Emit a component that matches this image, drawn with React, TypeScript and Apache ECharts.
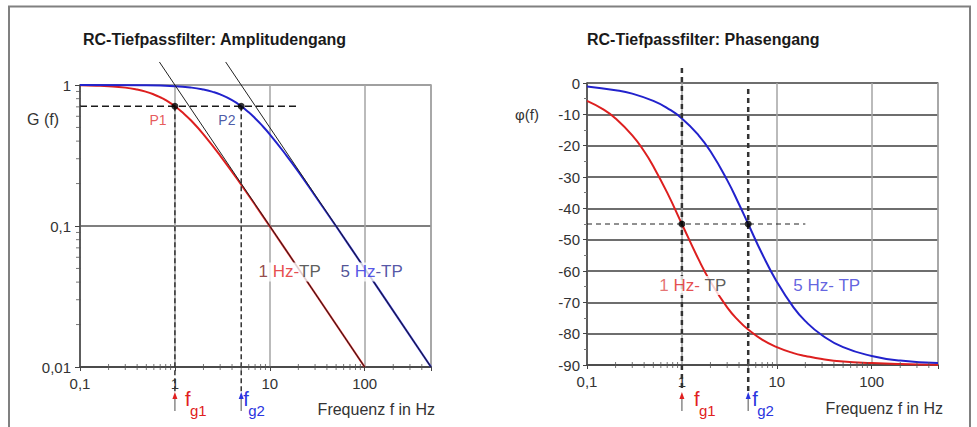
import React, { useEffect, useRef } from 'react';
import * as echarts from 'echarts';

const FONT = '"Liberation Sans", Arial, Helvetica, sans-serif';

// ---- Amplitude response (left panel) ----
const AMP_F1 = [0.1, 0.15, 0.2, 0.3, 0.4, 0.5, 0.6, 0.7, 0.8, 1, 1.2, 1.5, 2, 3, 5, 10, 20, 50, 100];
const AMP_G1 = [0.995, 0.989, 0.981, 0.958, 0.928, 0.894, 0.857, 0.819, 0.781, 0.707, 0.64, 0.555, 0.447, 0.316, 0.196, 0.0995, 0.05, 0.02, 0.01];
const AMP_F2 = [0.1, 0.5, 1, 1.5, 2, 2.5, 3, 4, 5, 6, 7, 8, 10, 15, 20, 30, 50, 100, 200, 500];
const AMP_G2 = [1.0, 0.995, 0.981, 0.958, 0.928, 0.894, 0.857, 0.781, 0.707, 0.64, 0.581, 0.53, 0.447, 0.316, 0.243, 0.164, 0.0995, 0.05, 0.025, 0.01];
const ASYM_F1 = [0.687, 100];
const ASYM_G1 = [1.456, 0.01];
const ASYM_F2 = [3.43, 500];
const ASYM_G2 = [1.456, 0.01];

// ---- Phase response (right panel) ----
const PH_F1 = [0.1, 0.15, 0.2, 0.3, 0.4, 0.5, 0.7, 1, 1.5, 2, 3, 4, 5, 7, 10, 15, 20, 30, 50, 100, 200, 500];
const PH_1 = [-5.7, -8.5, -11.3, -16.7, -21.8, -26.6, -35.0, -45.0, -56.3, -63.4, -71.6, -76.0, -78.7, -81.9, -84.3, -86.2, -87.1, -88.1, -88.9, -89.4, -89.7, -89.9];
const PH_F2 = [0.1, 0.2, 0.3, 0.5, 0.7, 1, 1.5, 2, 3, 4, 5, 7, 10, 15, 20, 30, 50, 100, 200, 500];
const PH_2 = [-1.1, -2.3, -3.4, -5.7, -8.0, -11.3, -16.7, -21.8, -31.0, -38.7, -45.0, -54.5, -63.4, -71.6, -76.0, -80.5, -84.3, -87.1, -88.6, -89.4];

// ---- Cut-off frequencies and guide values ----
const FG = [1, 5];
const G_CUT = 0.707;
const PHI_CUT = -45;
const GUIDE_END_F = 20;

// ---- Axis ticks ----
const X_LABELS = [0.1, 1, 10, 100];
const Y_AMP_LABELS = [0.01, 0.1, 1];
const X_MINOR = [0.2, 0.3, 0.4, 0.5, 0.6, 0.7, 0.8, 0.9, 2, 3, 4, 5, 6, 7, 8, 9, 20, 30, 40, 50, 60, 70, 80, 90, 200, 300, 400];
const Y_AMP_MINOR = [0.02, 0.03, 0.04, 0.05, 0.06, 0.07, 0.08, 0.09, 0.2, 0.3, 0.4, 0.5, 0.6, 0.7, 0.8, 0.9];

const RED = '#dd1f1f';
const BLUE = '#2222cc';

const zip = (a: number[], b: number[]) => a.map((v, i) => [v, b[i]]);
const inList = (list: number[]) => (v: number) => list.some((t) => Math.abs(v - t) / t < 1e-6);
const deco = (v: number) => String(v).replace('.', ',');

function minorTicks(grid: number, vals: number[], axis: 'x' | 'y', anchor: number) {
  return {
    type: 'scatter',
    xAxisIndex: grid,
    yAxisIndex: grid,
    silent: true,
    z: 6,
    clip: false,
    symbol: 'rect',
    symbolSize: axis === 'x' ? [1, 6] : [5, 1],
    symbolOffset: axis === 'x' ? [0, 0] : [-1.5, 0],
    itemStyle: { color: '#555' },
    data: vals.map((v) => (axis === 'x' ? [v, anchor] : [anchor, v])),
  };
}

function lineS(grid: number, data: number[][], color: string, width: number, extra: any = {}) {
  const { lineStyle, ...rest } = extra;
  return {
    type: 'line',
    xAxisIndex: grid,
    yAxisIndex: grid,
    data,
    symbol: 'none',
    silent: true,
    clip: false,
    ...rest,
    lineStyle: { color, width, ...(lineStyle || {}) },
  };
}

function textLabel(value: number[], rich: [string, string][], size: number) {
  const richObj: any = {};
  rich.forEach(([, c], i) => {
    richObj['s' + i] = { color: c, fontSize: size, fontFamily: FONT };
  });
  return {
    value,
    label: {
      show: true,
      position: 'inside',
      formatter: rich.map(([t], i) => `{s${i}|${t}}`).join(''),
      rich: richObj,
      backgroundColor: '#ffffff',
      padding: [1, 2],
    },
  };
}

function xAxisCfg(grid: number) {
  return {
    type: 'log',
    logBase: 10,
    gridIndex: grid,
    min: 0.1,
    max: 500,
    axisLine: { show: true, onZero: false, lineStyle: { color: '#444', width: 1.5 } },
    axisTick: { show: true, length: 4, lineStyle: { color: '#444' } },
    axisLabel: {
      color: '#333',
      fontSize: 15,
      fontFamily: FONT,
      margin: 9,
      formatter: (v: number) => (inList(X_LABELS)(v) ? deco(v) : ''),
    },
    splitLine: { show: true, lineStyle: { color: '#a4a4a4', width: 1.5 } },
  };
}

function buildOption() {
  const series: any[] = [
    // ---- left ----
    lineS(0, zip(AMP_F1, AMP_G1), RED, 2, { smooth: true, z: 3 }),
    lineS(0, zip(AMP_F2, AMP_G2), BLUE, 2, { smooth: true, z: 3 }),
    lineS(0, zip(ASYM_F1, ASYM_G1), '#222', 1, { z: 4 }),
    lineS(0, zip(ASYM_F2, ASYM_G2), '#222', 1, { z: 4 }),
    lineS(0, [[0.1, G_CUT], [GUIDE_END_F, G_CUT]], '#1a1a1a', 1.5, { z: 4, lineStyle: { type: [7, 4] } }),
    lineS(0, [[FG[0], G_CUT], [FG[0], 0.0066]], '#333', 1.5, { z: 4, lineStyle: { type: [5, 3] } }),
    lineS(0, [[FG[1], G_CUT], [FG[1], 0.0066]], '#333', 1.5, { z: 4, lineStyle: { type: [5, 3] } }),
    {
      type: 'scatter', xAxisIndex: 0, yAxisIndex: 0, silent: true, z: 7,
      symbolSize: 7, itemStyle: { color: '#000' },
      data: [[FG[0], G_CUT], [FG[1], G_CUT]],
    },
    {
      type: 'scatter', xAxisIndex: 0, yAxisIndex: 0, silent: true, z: 8,
      symbolSize: 0, itemStyle: { color: 'rgba(0,0,0,0)' },
      data: [
        textLabel([0.663, 0.565], [['P1', '#e03030']], 14),
        textLabel([3.53, 0.565], [['P2', '#203090']], 14),
        textLabel([16.2, 0.0472], [['1 ', '#7a1c1c'], ['Hz-', '#e02020'], ['TP', '#333333']], 17),
        textLabel([118.5, 0.0472], [['5 ', '#25257a'], ['Hz', '#2a2ae0'], ['-TP', '#2a2a90']], 17),
      ],
    },
    minorTicks(0, X_MINOR, 'x', 0.01),
    minorTicks(0, Y_AMP_MINOR, 'y', 0.1),
    // ---- right ----
    lineS(1, zip(PH_F1, PH_1), RED, 2, { smooth: true, z: 3 }),
    lineS(1, zip(PH_F2, PH_2), BLUE, 2, { smooth: true, z: 3 }),
    lineS(1, [[0.1, PHI_CUT], [GUIDE_END_F, PHI_CUT]], '#222', 1, { z: 4, lineStyle: { type: [5, 4] } }),
    lineS(1, [[FG[0], 4.8], [FG[0], -98.6]], '#333', 2.5, { z: 4, lineStyle: { type: [5, 4] } }),
    lineS(1, [[FG[1], -1.9], [FG[1], -98.6]], '#333', 2.5, { z: 4, lineStyle: { type: [5, 4] } }),
    {
      type: 'scatter', xAxisIndex: 1, yAxisIndex: 1, silent: true, z: 7,
      symbolSize: 7, itemStyle: { color: '#000' },
      data: [[FG[0], PHI_CUT], [FG[1], PHI_CUT]],
    },
    {
      type: 'scatter', xAxisIndex: 1, yAxisIndex: 1, silent: true, z: 8,
      symbolSize: 0, itemStyle: { color: 'rgba(0,0,0,0)' },
      data: [
        textLabel([1.305, -64.6], [['1 ', '#e05050'], ['Hz-', '#e02020'], [' TP', '#333333']], 17),
        textLabel([33.6, -64.6], [['5 Hz- TP', '#3a3ad8']], 17),
      ],
    },
    minorTicks(1, X_MINOR, 'x', -90),
  ];

  return {
    animation: false,
    backgroundColor: '#ffffff',
    grid: [
      { left: 80, top: 85, width: 351, height: 282, show: true, borderColor: '#9a9a9a', borderWidth: 1.5 },
      { left: 587, top: 83, width: 351, height: 282, show: true, borderColor: '#9a9a9a', borderWidth: 1.5 },
    ],
    xAxis: [xAxisCfg(0), xAxisCfg(1)],
    yAxis: [
      {
        type: 'log',
        logBase: 10,
        gridIndex: 0,
        min: 0.01,
        max: 1,
        axisLine: { show: true, onZero: false, lineStyle: { color: '#444', width: 1.5 } },
        axisTick: { show: true, length: 5, lineStyle: { color: '#444' } },
        axisLabel: {
          color: '#333', fontSize: 15, fontFamily: FONT, margin: 9,
          formatter: (v: number) => (inList(Y_AMP_LABELS)(v) ? deco(v) : ''),
        },
        splitLine: { show: true, lineStyle: { color: ['#444', '#555', '#9a9a9a'], width: 1.5 } },
      },
      {
        type: 'value',
        gridIndex: 1,
        min: -90,
        max: 0,
        interval: 10,
        axisLine: { show: true, onZero: false, lineStyle: { color: '#444', width: 1.5 } },
        axisTick: { show: true, length: 4, lineStyle: { color: '#444' } },
        minorTick: { show: true, splitNumber: 2, length: 3, lineStyle: { color: '#777' } },
        axisLabel: { color: '#333', fontSize: 15, fontFamily: FONT, margin: 7 },
        splitLine: { show: true, lineStyle: { color: '#6e6e6e', width: 2 } },
      },
    ],
    series,
  };
}

function fgLabel(x: number, yTop: number, color: string, sub: string, fDx: number) {
  return [
    { type: 'line', silent: true, shape: { x1: x, y1: yTop + 5, x2: x, y2: yTop + 19 }, style: { stroke: '#8a8a8a', lineWidth: 1.5 } },
    { type: 'polygon', silent: true, shape: { points: [[x, yTop], [x - 2.5, yTop + 7], [x + 2.5, yTop + 7]] }, style: { fill: color } },
    { type: 'text', silent: true, x: x + fDx, y: yTop + 7, style: { text: 'f', font: `20px ${FONT}`, fill: color, verticalAlign: 'middle' } },
    { type: 'text', silent: true, x: x + fDx + 5, y: yTop + 18, style: { text: sub, font: `15px ${FONT}`, fill: color, verticalAlign: 'middle' } },
  ];
}

export default function App() {
  const ref = useRef<HTMLDivElement>(null);
  useEffect(() => {
    if (!ref.current) return;
    const chart = echarts.init(ref.current, null, { renderer: 'svg' });
    chart.setOption(buildOption() as any);

    const px = (grid: number, v: number[]) => chart.convertToPixel({ gridIndex: grid } as any, v) as number[];
    const l1 = px(0, [FG[0], 0.01]);
    const l5 = px(0, [FG[1], 0.01]);
    const r1 = px(1, [FG[0], -90]);
    const r5 = px(1, [FG[1], -90]);
    const yTop = 392;

    const graphic: any[] = [
      {
        type: 'polyline', silent: true,
        shape: { points: [[9, 430], [9, 6.5], [970, 6.5], [970, 430]] },
        style: { stroke: '#808080', lineWidth: 2, fill: 'none' },
      },
      { type: 'text', silent: true, x: 83, y: 39, style: { text: 'RC-Tiefpassfilter: Amplitudengang', font: `bold 16px ${FONT}`, fill: '#1a1a1a', verticalAlign: 'middle' } },
      { type: 'text', silent: true, x: 587, y: 39, style: { text: 'RC-Tiefpassfilter: Phasengang', font: `bold 16px ${FONT}`, fill: '#1a1a1a', verticalAlign: 'middle' } },
      { type: 'text', silent: true, x: 27, y: 119, style: { text: 'G (f)', font: `16px ${FONT}`, fill: '#333', verticalAlign: 'middle' } },
      { type: 'text', silent: true, x: 515, y: 114, style: { text: 'φ(f)', font: `15px ${FONT}`, fill: '#333', verticalAlign: 'middle' } },
      { type: 'text', silent: true, x: 435, y: 409, style: { text: 'Frequenz f in Hz', font: `16px ${FONT}`, fill: '#333', align: 'right', verticalAlign: 'middle' } },
      { type: 'text', silent: true, x: 943, y: 408, style: { text: 'Frequenz f in Hz', font: `16px ${FONT}`, fill: '#333', align: 'right', verticalAlign: 'middle' } },
      ...fgLabel(l1[0], yTop, '#e02020', 'g1', 10),
      ...fgLabel(l5[0], yTop, '#2a35e0', 'g2', 2),
      ...fgLabel(r1[0], yTop, '#e02020', 'g1', 12),
      ...fgLabel(r5[0], yTop, '#2a35e0', 'g2', 4),
    ];
    chart.setOption({ graphic } as any);

    return () => chart.dispose();
  }, []);

  return <div ref={ref} style={{ position: 'absolute', left: 0, top: 0, width: 977, height: 427 }} />;
}
